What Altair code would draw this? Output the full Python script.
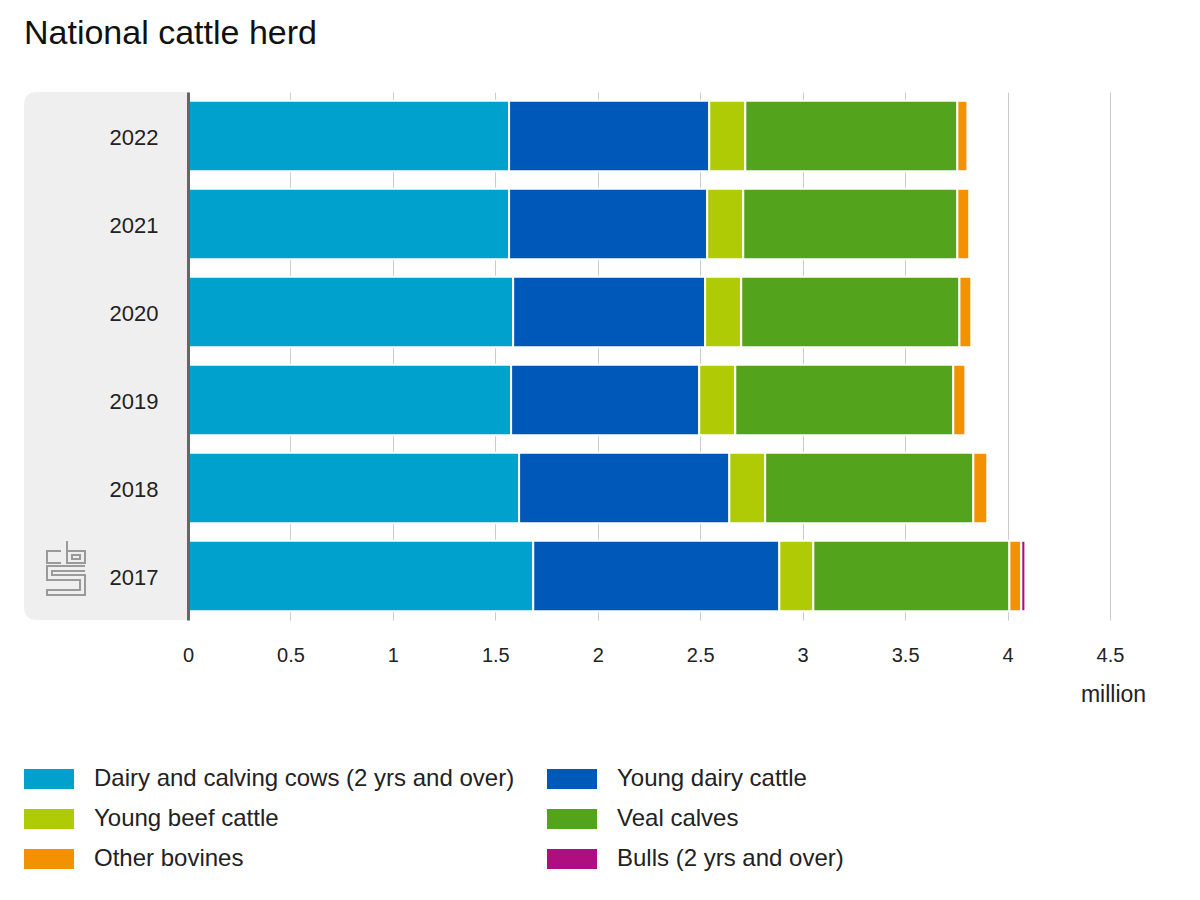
import altair as alt
import pandas as pd

# ---- data (million head) ----
years = ["2022", "2021", "2020", "2019", "2018", "2017"]
categories = [
    "Dairy and calving cows (2 yrs and over)",
    "Young dairy cattle",
    "Young beef cattle",
    "Veal calves",
    "Other bovines",
    "Bulls (2 yrs and over)",
]
colors = ["#00a1cd", "#0058b8", "#afcb05", "#53a31d", "#f39200", "#af0e80"]

dairy_cows = [1.567, 1.567, 1.587, 1.577, 1.616, 1.685]
young_dairy = [0.977, 0.967, 0.937, 0.918, 1.026, 1.201]
young_beef = [0.176, 0.176, 0.176, 0.176, 0.175, 0.166]
veal_calves = [1.035, 1.045, 1.065, 1.064, 1.016, 0.957]
other_bovines = [0.049, 0.058, 0.058, 0.059, 0.068, 0.058]
bulls = [0.0, 0.0, 0.0, 0.0, 0.0, 0.020]

x_ticks = [0, 0.5, 1, 1.5, 2, 2.5, 3, 3.5, 4, 4.5]

series = [dairy_cows, young_dairy, young_beef, veal_calves, other_bovines, bulls]
rows = []
for k, (cat, vals) in enumerate(zip(categories, series)):
    for yr, v in zip(years, vals):
        if v > 0:
            rows.append({"year": yr, "category": cat, "value": v, "k": k})
df = pd.DataFrame(rows)

FONT = "Liberation Sans"
W, H = 922, 528

bars = alt.Chart(df).mark_bar(stroke="white", strokeWidth=2).encode(
    x=alt.X(
        "value:Q",
        stack="zero",
        scale=alt.Scale(domain=[0, 4.5], nice=False),
        axis=alt.Axis(
            values=x_ticks,
            format="~g",
            grid=True,
            gridColor="#cccccc",
            gridWidth=1,
            domain=False,
            ticks=False,
            labelFlush=False,
            labelFontSize=20,
            labelColor="#222222",
            labelFont=FONT,
            labelPadding=25,
            title="million",
            titleFont=FONT,
            titleFontSize=23,
            titleFontWeight="normal",
            titleColor="#222222",
            titleX=925,
            titleY=81,
            titleAlign="center",
            titleBaseline="alphabetic",
            zindex=0,
        ),
    ),
    y=alt.Y(
        "year:N",
        sort=years,
        scale=alt.Scale(paddingInner=0.2, paddingOuter=0.1),
        axis=alt.Axis(
            title=None,
            domain=True,
            domainColor="#666666",
            domainWidth=3,
            ticks=False,
            grid=False,
            labelFontSize=22,
            labelFont=FONT,
            labelColor="#222222",
            labelPadding=30,
            labelOffset=2,
            zindex=1,
        ),
    ),
    color=alt.Color(
        "category:N",
        scale=alt.Scale(domain=categories, range=colors),
        legend=alt.Legend(
            title=None,
            orient="none",
            legendX=-164,
            legendY=662,
            columns=2,
            direction="horizontal",
            symbolType="M-1,-0.4H1V0.4H-1Z",
            symbolSize=2500,
            symbolStrokeWidth=0,
            symbolOpacity=1,
            labelFont=FONT,
            labelFontSize=24,
            labelColor="#222222",
            labelOffset=20,
            labelLimit=800,
            columnPadding=32,
            rowPadding=3,
            padding=0,
        ),
    ),
    order=alt.Order("k:Q", sort="ascending"),
)

bg = alt.Chart(pd.DataFrame({"a": [0]})).mark_rect(
    color="#efefef", cornerRadiusTopLeft=12, cornerRadiusBottomLeft=12
).encode(
    x=alt.value(-164), x2=alt.value(0), y=alt.value(0), y2=alt.value(H)
)

logo_path = (
    "M-0.185,-0.630L-0.704,-0.630L-0.704,-0.185L-0.185,-0.185"
    "M0.037,-1L0.037,-0.185L0.704,-0.185L0.704,-0.630L0.037,-0.630"
    "M0.222,-0.481L0.519,-0.481L0.519,-0.333L0.222,-0.333Z"
    "M0.704,-0.074L-0.704,-0.074L-0.704,0.444L0.519,0.444L0.519,0.815"
    "L-0.704,0.815L-0.704,1L0.704,1L0.704,0.259L-0.519,0.259L-0.519,0.111L0.704,0.111"
)
logo = alt.Chart(pd.DataFrame({"a": [0]})).mark_point(
    shape=logo_path, filled=False, stroke="#9a9a9a", strokeWidth=2, size=2916, opacity=1
).encode(x=alt.value(-122), y=alt.value(476))

chart = (
    alt.layer(bg, logo, bars)
    .properties(
        width=W,
        height=H,
        autosize=alt.AutoSizeParams(type="none"),
        padding={"left": 180, "top": 84, "right": 70, "bottom": 270},
        title=alt.TitleParams(
            "National cattle herd",
            anchor="start",
            frame="group",
            dx=-164,
            dy=33,
            offset=47,
            fontSize=34,
            fontWeight="normal",
            font=FONT,
            color="#111111",
            baseline="alphabetic",
        ),
    )
    .configure_view(stroke=None)
)

chart.save("out.html", embed_options={"renderer": "svg", "actions": False})
